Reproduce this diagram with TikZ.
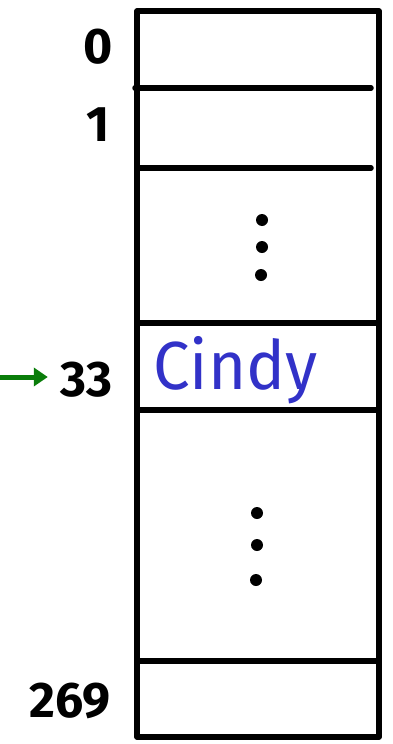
\documentclass[tikz,border=0pt]{standalone}
\usepackage{fontspec}
\setmainfont{Fira Sans}
\usetikzlibrary{arrows.meta}
\definecolor{ink}{RGB}{0,0,0}
\definecolor{namecol}{RGB}{50,50,200}
\definecolor{ptrcol}{RGB}{10,125,10}
\begin{document}
\begin{tikzpicture}[x=1pt,y=-1pt,
  cellline/.style={line width=5.5pt, line cap=round, line join=round, draw=ink},
  idx/.style={font=\fontsize{50}{50}\selectfont\bfseries, anchor=center, inner sep=0pt},
  vdot/.style={circle, fill=ink, minimum size=12pt, inner sep=0pt},
  ptr/.style={line width=5pt, draw=ptrcol, shorten >=12pt, -{Triangle[length=14pt,width=18pt]}}]
\useasboundingbox (0,0) rectangle (392,744);
% outer frame of the array
\coordinate (tl) at (137,11);
\coordinate (br) at (379,737);
\draw[cellline] (tl) rectangle (br);
% separators between slots
\draw[cellline] (135,88) -- (371,88);
\draw[cellline] (137,168) -- (371,168);
\draw[cellline] (137,323) -- (379,323);
\draw[cellline] (137,410) -- (379,410);
\draw[cellline] (137,661) -- (379,661);
% indices
\node[idx] (i0) at (98,47) {0};
\node[idx] (i1) at (98,125) {1};
\node[idx] (i33) at (86,380) {33};
\node[idx] (i269) at (70,701) {269};
% elided slots
\node[vdot] (d1) at (262,220) {};
\node[vdot] (d2) at (262,247) {};
\node[vdot] (d3) at (261,275) {};
\node[vdot] (d4) at (257,513) {};
\node[vdot] (d5) at (257,545) {};
\node[vdot] (d6) at (256,580) {};
% stored value
\node[font=\fontsize{68}{68}\selectfont, text=namecol, anchor=west, inner sep=0pt, xscale=0.96] (val) at (153,370) {Cindy};
% incoming pointer
\coordinate (src) at (0,377);
\draw[ptr] (src) -- (src -| i33.west);
\end{tikzpicture}
\end{document}
